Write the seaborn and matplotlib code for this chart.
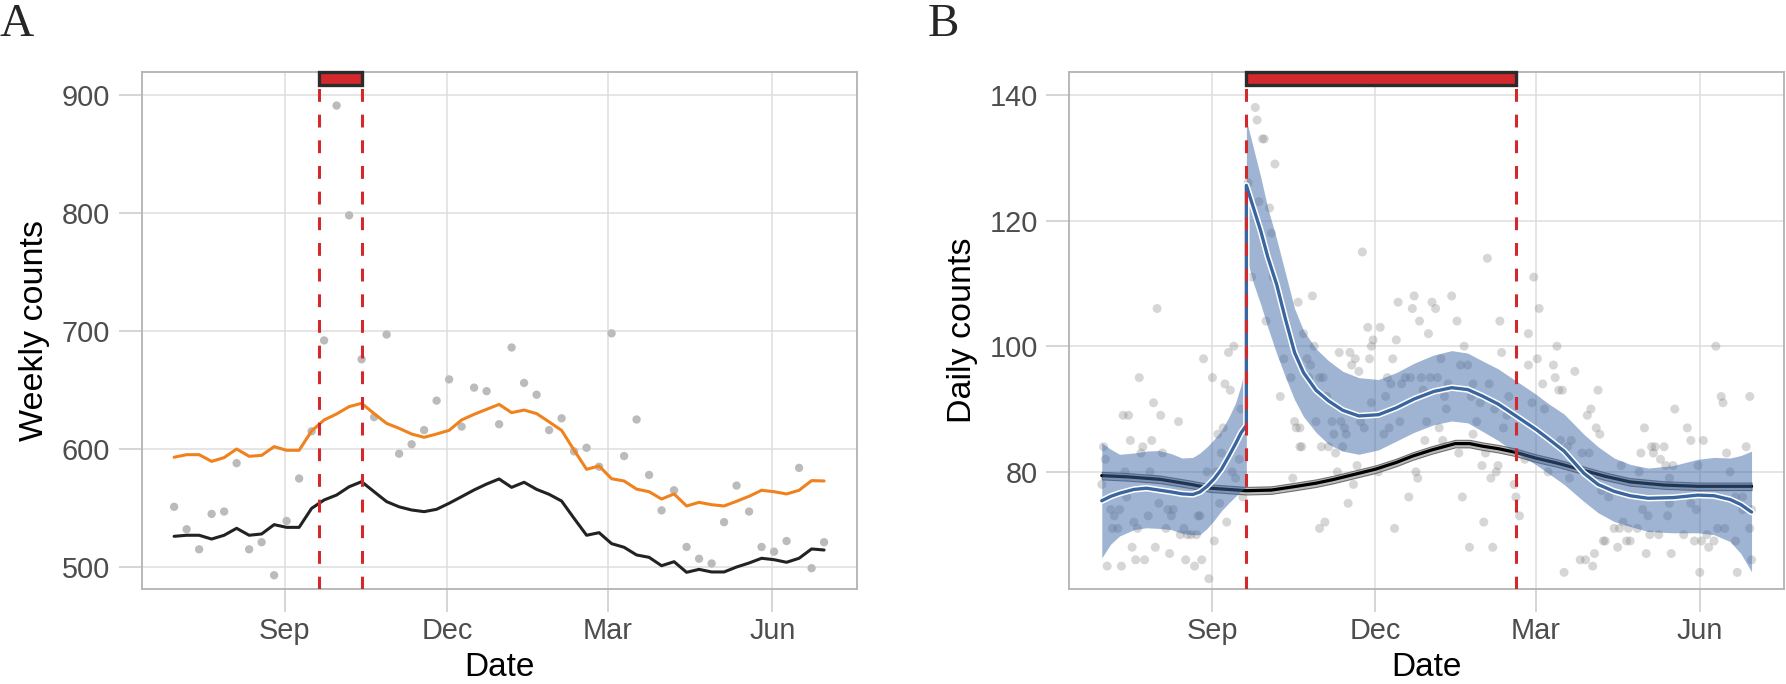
import numpy as np
import pandas as pd
import matplotlib
matplotlib.use("Agg")
import matplotlib.pyplot as plt
import matplotlib.dates as mdates
import matplotlib.patheffects as pe
import seaborn as sns

# ---------------- data ----------------
START = pd.Timestamp("2016-07-01")

# Panel A: weekly counts (53 weeks)
weekly_counts = [551, 532, 515, 545, 547, 588, 515, 521, 493, 539, 575, 615, 692, 891, 798,
                 676, 627, 697, 596, 604, 616, 641, 659, 619, 652, 649, 621, 686, 656, 646,
                 616, 626, 598, 601, 585, 698, 594, 625, 578, 548, 565, 517, 507, 503, 538,
                 569, 547, 517, 513, 522, 584, 499, 521]
weekly_upper = [593, 595.2, 595.2, 589.5, 592.7, 600, 593.8, 594.6, 602, 598.9, 598.9, 615.3,
                624.6, 629.7, 635.9, 638.7, 630, 621.7, 617.5, 612.7, 609.9, 612.7, 615.8,
                624.6, 629.4, 633.6, 637.8, 630.8, 633, 630, 623, 615.8, 599, 582.8, 585.6,
                574.8, 572.9, 566, 563.8, 557.6, 561.9, 551.7, 554.8, 552.8, 551.7, 555.7,
                559.9, 565, 563.8, 561.9, 565, 573.2, 572.9]
weekly_lower = [526, 526.9, 526.9, 523.7, 526.9, 532.8, 526.9, 528, 535.9, 533.6, 533.6, 549.7,
                556.8, 561, 568, 572.3, 563.8, 555.4, 551, 548.3, 546.9, 548.9, 554, 559.6,
                565.3, 570.3, 574.6, 567.5, 571.8, 565.8, 561.6, 555.9, 541.2, 526.9, 529.1,
                519.8, 516.7, 510.2, 508.2, 501.1, 504.5, 495.5, 498, 495.8, 495.8, 500,
                503.4, 507.4, 506.2, 504, 507.4, 515.3, 514.4]
a_period = ["2016-09-20", "2016-10-14"]

# Panel B: daily counts (day offset from START, count)
b_day = [31, 21, 29, 12, 15, 33, 43, 16, 28, 1, 23, 2, 22, 34, 13, 27, 0, 14, 5, 10, 7, 32, 26,
         37, 40, 39, 18, 6, 9, 20, 36, 46, 44, 48, 50, 53, 54, 55, 17, 30, 19, 24, 38, 47, 56,
         3, 11, 52, 63, 60, 70, 66, 57, 62, 69, 72, 71, 74, 78, 65, 68, 67, 59, 64, 73, 75, 79, 77,
         86, 87, 90, 91, 97, 94, 95, 82, 88, 96, 84, 92, 102, 106, 100, 110, 108, 109, 111, 107,
         146, 118, 166, 175, 196, 174, 185, 187, 216, 178, 199, 223, 149, 156, 183, 152, 165,
         113, 119, 151, 203, 133, 139, 142, 163, 224, 150, 115, 140, 117, 144, 201, 205, 190,
         122, 124, 116, 160, 170, 173, 179, 184, 188, 162, 168, 194, 208, 217, 151, 159, 180,
         192, 207, 212, 228, 126, 220, 193, 227, 120, 129, 134, 145, 167, 182, 210, 111, 136,
         147, 161, 189, 225, 130, 137, 158, 112, 123, 127, 131, 135, 181, 191, 200, 208, 215,
         143, 132, 155, 176, 213, 222, 221, 141, 177, 218, 231, 138, 172, 202, 232, 234, 125,
         122, 164, 214, 206, 219, 237, 242, 239, 239, 241,
         245, 255, 244, 253, 265, 254, 247, 256, 258, 278, 248, 274, 272, 321, 277, 279, 304,
         328, 347, 348, 363, 257, 263, 261, 330, 337, 269, 273, 361, 350, 302, 308, 310, 309,
         315, 313, 250, 262, 291, 301, 316, 320, 318, 334, 352, 280, 284, 318, 330, 333, 355,
         359, 359, 364, 303, 306, 317, 287, 290, 295, 300, 292, 307, 312, 326, 332, 336, 339,
         343, 340, 345, 349, 355, 363, 281, 282, 289, 294, 296, 276, 268, 271, 275, 259, 305,
         319, 335, 356, 364, 344]
b_count = [106, 95, 91, 89, 89, 89, 88, 85, 85, 84, 84, 82, 83, 83, 80, 80, 78, 76, 74, 74, 73,
           75, 73, 74, 74, 73, 72, 71, 71, 71, 71, 71, 70, 70, 70, 70, 73, 73, 68, 68, 66, 66,
           67, 66, 66, 65, 65, 65, 69, 63, 72, 75, 98, 95, 94, 93, 99, 100, 90, 86, 87, 83, 80,
           80, 80, 79, 76, 82,
           138, 136, 133, 133, 129, 122, 118, 126, 123, 111, 111, 104, 98, 95, 92, 107, 88, 87,
           84, 79,
           115, 108, 107, 108, 108, 106, 107, 106, 114, 104, 104, 104, 103, 103, 102, 101, 101,
           102, 100, 100, 100, 99, 99, 98, 98, 99, 98, 98, 97, 97, 96, 97, 97, 98,
           95, 95, 95, 95, 95, 95, 95, 95, 95, 94, 94, 94, 94, 94, 91, 92, 93,
           92, 92, 91, 92, 92, 90, 90, 89, 88, 88, 88, 88, 88, 88, 88, 87, 87,
           87, 87, 87, 87, 86, 86, 86, 84, 84, 84, 83, 84, 85, 85, 83, 86, 83,
           81, 80, 80, 80, 81, 81, 80, 78, 79, 79, 78, 75, 76, 76, 76, 73, 72,
           71, 71, 72, 68, 68, 82, 111, 102, 97, 91,
           106, 100, 98, 97, 96, 95, 94, 93, 93, 93, 90, 90, 89, 90, 87, 86, 87,
           87, 92, 91, 92, 85, 85, 84, 85, 85, 83, 83, 84, 83, 83, 84, 84, 83,
           84, 82, 80, 79, 81, 80, 81, 81, 79, 81, 80, 77, 76, 75, 75, 74, 76,
           76, 74, 74, 74, 73, 73, 71, 71, 71, 71, 72, 70, 70, 70, 69, 69, 70,
           69, 68, 71, 71, 69, 71, 69, 69, 68, 69, 69, 67, 66, 66, 65, 64, 67,
           67, 64, 64, 66, 100]

# Panel B fitted curves
b_ref_days = [0, 15, 33, 50, 61, 81, 95, 109, 120, 130, 140, 153, 165, 174, 185, 198, 206, 213,
              222, 232, 243, 255, 268, 282, 296, 315, 334, 350, 364]
b_ref_fit = [79.4, 79.2, 78.8, 78.0, 77.4, 77.0, 77.1, 77.7, 78.2, 78.8, 79.5, 80.4, 81.5, 82.5,
             83.5, 84.5, 84.5, 84.1, 83.7, 83.1, 82.2, 81.4, 80.4, 79.3, 78.4, 77.9, 77.7, 77.7,
             77.7]
b_ref_halfwidth = 0.6

b_pre_days = [0, 5, 10, 18, 25, 32, 39, 45, 51, 55, 59, 63, 67, 71, 75, 78, 81]
b_pre_fit = [75.4, 76.1, 76.6, 77.2, 77.4, 77.1, 76.8, 76.5, 76.4, 76.8, 77.7, 78.9, 80.4, 82.4,
             84.5, 86.2, 87.4]
b_pre_hi = [84.6, 83.6, 82.8, 83.0, 83.3, 83.4, 82.9, 82.2, 82.3, 83.0, 84.0, 85.2, 86.6, 88.6,
            91.0, 93.8, 97.5]
b_pre_lo = [66.3, 68.5, 69.8, 70.8, 71.1, 71.0, 70.8, 70.2, 70.0, 70.0, 71.0, 72.3, 73.8, 75.0,
            76.1, 76.9, 77.6]

b_post_days = [81, 85, 89, 93, 98, 103, 108, 113, 120, 127, 135, 144, 155, 165, 175, 186, 196,
               205, 213, 222, 232, 243, 250, 259, 270, 278, 287, 296, 306, 320, 334, 343, 352,
               358, 364]
b_post_fit = [125.6, 122.0, 118.4, 114.2, 109.8, 104.2, 99.0, 95.8, 93.0, 91.3, 89.8, 88.9, 89.1,
              90.2, 91.6, 92.8, 93.4, 93.1, 92.1, 90.8, 88.9, 86.8, 85.3, 83.3, 79.8, 78.0, 76.9,
              76.2, 75.8, 75.9, 76.3, 76.2, 75.6, 74.8, 73.6]
b_post_hi = [136.0, 131.5, 127.0, 122.0, 117.0, 111.5, 106.0, 102.5, 99.6, 97.7, 96.0, 95.0, 94.7,
             95.8, 97.3, 98.6, 99.3, 98.9, 97.7, 96.4, 94.5, 92.4, 90.9, 89.2, 86.0, 84.0, 82.2,
             81.2, 80.6, 81.0, 82.0, 82.3, 82.2, 82.6, 83.3]
b_post_lo = [114.2, 110.0, 106.7, 103.0, 98.8, 95.0, 91.5, 88.8, 86.3, 84.4, 83.3, 82.8, 83.5,
             84.9, 86.3, 87.5, 88.1, 87.8, 86.5, 85.0, 83.0, 81.2, 79.8, 78.0, 75.3, 73.5, 72.1,
             71.3, 70.5, 70.3, 70.3, 70.0, 68.9, 67.0, 64.1]
b_period = ["2016-09-20", "2017-02-18"]

month_ticks = ["2016-09-01", "2016-12-01", "2017-03-01", "2017-06-01"]

# ---------------- style ----------------
GRID = "#DEDEDE"
TICK = "#D2D2D2"
BORDER = "#B3B3B3"
RED = "#D3292D"
ORANGE = "#F0821E"
BLUE = "#3A66A0"

sns.set_theme(style="whitegrid")
plt.rcParams["font.family"] = ["Liberation Sans", "DejaVu Sans"]

fig = plt.figure(figsize=(17.86, 6.84), dpi=100)
axA = fig.add_axes([0.0793, 0.1393, 0.4003, 0.7550])
axB = fig.add_axes([0.5987, 0.1393, 0.4002, 0.7550])


def days_to_dates(d):
    return START + pd.to_timedelta(np.asarray(d), unit="D")


def style_axis(ax, ylim, yticks, ylabel):
    ax.set_xlim(START - pd.Timedelta(days=18.2), START + pd.Timedelta(days=364 + 18.2))
    ax.set_ylim(*ylim)
    ax.set_yticks(yticks)
    ax.set_xticks(pd.to_datetime(month_ticks))
    ax.xaxis.set_major_formatter(mdates.DateFormatter("%b"))
    ax.grid(True, which="major", color=GRID, linewidth=1.1)
    for sp in ax.spines.values():
        sp.set_visible(True)
        sp.set_color(BORDER)
        sp.set_linewidth(1.3)
    ax.tick_params(axis="both", which="major", bottom=True, left=True, top=False, right=False,
                   length=16.6, width=1.3, color=TICK,
                   labelsize=20.8, labelcolor="#4D4D4D")
    ax.tick_params(axis="x", pad=3.8)
    ax.tick_params(axis="y", pad=6.0)
    ax.set_xlabel("Date", fontsize=24, color="black")
    ax.set_ylabel(ylabel, fontsize=24.5, color="black")
    ax.xaxis.set_label_coords(0.5, -0.1226)
    ax.yaxis.set_label_coords(-0.128, 0.5)
    ax.set_facecolor("white")


def period_marks(ax, period):
    p0, p1 = pd.to_datetime(period)
    for p in (p0, p1):
        ax.axvline(p, color=RED, linewidth=2.2, dashes=(4.2, 4.2), zorder=6)
    ax.axvspan(p0, p1, ymin=0.975, ymax=1.0, facecolor=RED, edgecolor="#2B2B2B",
               linewidth=2.4, zorder=7, clip_on=False)


# ---------------- panel A ----------------
dfA = pd.DataFrame({"date": pd.date_range(START, periods=len(weekly_counts), freq="7D"),
                    "count": weekly_counts, "upper": weekly_upper, "lower": weekly_lower})
sns.scatterplot(data=dfA, x="date", y="count", ax=axA, color="#BBBBBB", s=36,
                edgecolor="none", zorder=3, legend=False)
sns.lineplot(data=dfA, x="date", y="upper", ax=axA, color=ORANGE, linewidth=2.2,
             estimator=None, sort=False, zorder=4)
sns.lineplot(data=dfA, x="date", y="lower", ax=axA, color="#222222", linewidth=2.2,
             estimator=None, sort=False, zorder=4)
period_marks(axA, a_period)
style_axis(axA, (481.6, 919.2), [500, 600, 700, 800, 900], "Weekly counts")

# ---------------- panel B ----------------
dfB = pd.DataFrame({"date": days_to_dates(b_day), "count": b_count})
sns.scatterplot(data=dfB, x="date", y="count", ax=axB, color="#7A7A7A", alpha=0.3, s=42,
                edgecolor="none", zorder=2, legend=False)

ref_dates = days_to_dates(b_ref_days)
ref = np.asarray(b_ref_fit)
axB.fill_between(ref_dates, ref - b_ref_halfwidth, ref + b_ref_halfwidth,
                 facecolor="#AAAAAA", edgecolor="#555555", linewidth=0.8, alpha=0.8, zorder=3)
sns.lineplot(x=ref_dates, y=ref, ax=axB, color="black", linewidth=2.3,
             estimator=None, sort=False, zorder=3.5)

axB.fill_between(days_to_dates(b_pre_days), b_pre_lo, b_pre_hi, color="#3F6AA6",
                 alpha=0.5, linewidth=0, zorder=4)
axB.fill_between(days_to_dates(b_post_days), b_post_lo, b_post_hi, color="#3F6AA6",
                 alpha=0.5, linewidth=0, zorder=4)

fit_dates = days_to_dates(list(b_pre_days) + list(b_post_days))
fit_vals = list(b_pre_fit) + list(b_post_fit)
sns.lineplot(x=fit_dates, y=fit_vals, ax=axB, color=BLUE, linewidth=2.4, estimator=None,
             sort=False, zorder=5,
             path_effects=[pe.Stroke(linewidth=4.6, foreground="white"), pe.Normal()])
period_marks(axB, b_period)
style_axis(axB, (61.4, 143.6), [80, 100, 120, 140], "Daily counts")

# panel letters
fig.text(0.0, 0.995, "A", fontsize=34, family=["Liberation Serif", "DejaVu Serif"],
         va="top", ha="left")
fig.text(0.5196, 0.995, "B", fontsize=34, family=["Liberation Serif", "DejaVu Serif"],
         va="top", ha="left")

fig.savefig("out.png", dpi=100)
